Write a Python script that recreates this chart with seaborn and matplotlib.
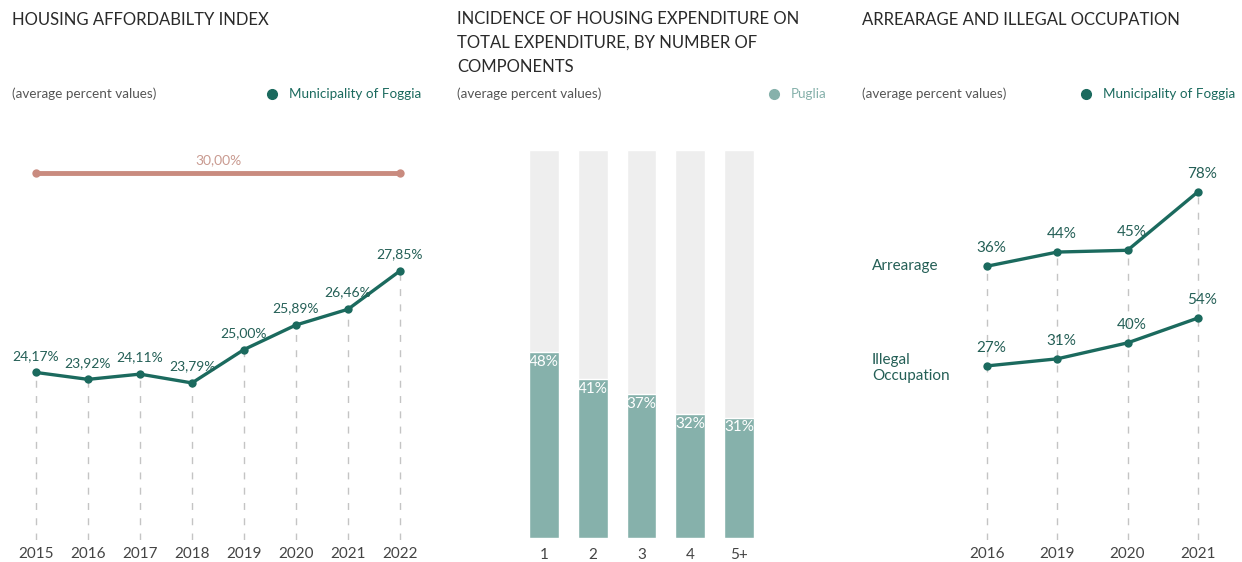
import matplotlib
matplotlib.use("Agg")
import matplotlib.pyplot as plt
import seaborn as sns
import pandas as pd
import numpy as np
from matplotlib.lines import Line2D

# ---------------- data ----------------
years_afford = [2015, 2016, 2017, 2018, 2019, 2020, 2021, 2022]
afford_values = [24.17, 23.92, 24.11, 23.79, 25.00, 25.89, 26.46, 27.85]
afford_threshold = 30.00

components = ["1", "2", "3", "4", "5+"]
incidence_puglia = [48, 41, 37, 32, 31]
incidence_total = [100, 100, 100, 100, 100]

years_arrear = ["2016", "2019", "2020", "2021"]
arrearage = [36, 44, 45, 78]
illegal_occupation = [27, 31, 40, 54]

# ---------------- style ----------------
sns.set_theme(style="white")
plt.rcParams["font.family"] = ["Lato", "DejaVu Sans"]

DARK = "#1b6a5e"
DARK_TXT = "#245f56"
ROSE = "#c98b7f"
ROSE_TXT = "#c99a90"
BAR = "#86b1ab"
BAR_BG = "#eeeeee"
GRID = "#c4c4c4"
TXT = "#2a2a2a"
SUB = "#555555"

W, H = 1242, 562
fig = plt.figure(figsize=(W / 100, H / 100), dpi=100)
fig.patch.set_facecolor("white")


def rect(l, t, r, b):
    return [l / W, 1 - b / H, (r - l) / W, (b - t) / H]


def fx(x):
    return x / W


def fy(y):
    return 1 - y / H


def clean(ax):
    for s in ax.spines.values():
        s.set_visible(False)
    ax.set_yticks([])
    ax.set_ylabel("")
    ax.set_xlabel("")
    ax.tick_params(axis="x", length=0, pad=5, labelsize=11, labelcolor="#444444")
    ax.set_facecolor("none")


# ---------------- headers ----------------
fig.text(fx(12), fy(20), "HOUSING AFFORDABILTY INDEX", fontsize=12, color=TXT, va="center")
fig.text(fx(457), fy(11), "INCIDENCE OF HOUSING EXPENDITURE ON\nTOTAL EXPENDITURE, BY NUMBER OF\nCOMPONENTS",
         fontsize=12, color=TXT, va="top", ha="left", linespacing=1.6)
fig.text(fx(862), fy(20), "ARREARAGE AND ILLEGAL OCCUPATION", fontsize=12, color=TXT, va="center")

for x in (12, 457, 862):
    fig.text(fx(x), fy(94), "(average percent values)", fontsize=9.7, color=SUB, va="center")

legend_items = [(272, "Municipality of Foggia", DARK), (774, "Puglia", BAR), (1086, "Municipality of Foggia", DARK)]
for x, lab, col in legend_items:
    fig.add_artist(Line2D([fx(x)], [fy(94)], marker="o", markersize=7, color=col,
                          linestyle="none", transform=fig.transFigure))
    fig.text(fx(x + 17), fy(94), lab, fontsize=9.7, color=col, va="center")

# ---------------- panel 1: affordability ----------------
ax1 = fig.add_axes(rect(20, 150, 416, 540))
df1 = pd.DataFrame({"year": years_afford, "value": afford_values})
ylo1, yhi1 = 18.1, 32.23
ax1.vlines(df1["year"], ylo1, df1["value"], colors=GRID, linestyles=(0, (5, 6)), linewidth=1, zorder=1)
sns.lineplot(data=df1, x="year", y="value", ax=ax1, color=DARK, linewidth=2.4,
             marker="o", markersize=6, markeredgewidth=0, zorder=3)
for x, v in zip(years_afford, afford_values):
    ax1.annotate(f"{v:.2f}".replace(".", ",") + "%", (x, v), xytext=(0, 12), textcoords="offset points",
                 ha="center", va="center", fontsize=10, color=DARK_TXT, zorder=4)
ax1.set_xlim(2014.692, 2022.308)
ax1.set_ylim(ylo1, yhi1)
ax1.set_xticks(years_afford)
ax1.set_xticklabels([str(y) for y in years_afford])
clean(ax1)

# threshold line on a twin scale
ax1b = ax1.twinx()
df1b = pd.DataFrame({"year": [years_afford[0], years_afford[-1]], "value": [afford_threshold] * 2})
sns.lineplot(data=df1b, x="year", y="value", ax=ax1b, color=ROSE, linewidth=3.5,
             marker="o", markersize=6, markeredgewidth=0)
ax1b.annotate(f"{afford_threshold:.2f}".replace(".", ",") + "%",
              ((years_afford[0] + years_afford[-1]) / 2, afford_threshold),
              xytext=(0, 9), textcoords="offset points", ha="center", va="center",
              fontsize=10, color=ROSE_TXT)
ax1b.set_ylim(0, 30 / 0.941)
ax1b.set_xlim(ax1.get_xlim())
ax1b.set_axis_off()

# ---------------- panel 2: bars ----------------
ax2 = fig.add_axes(rect(510, 150, 773, 538))
df2 = pd.DataFrame({"comp": components, "value": incidence_puglia, "total": incidence_total})
sns.barplot(data=df2, x="comp", y="total", ax=ax2, color=BAR_BG, width=0.615, saturation=1, zorder=1)
sns.barplot(data=df2, x="comp", y="value", ax=ax2, color=BAR, width=0.615, saturation=1, zorder=2)
for i, v in enumerate(incidence_puglia):
    ax2.annotate(f"{v}%", (i, v), xytext=(0, -2), textcoords="offset points",
                 ha="center", va="top", fontsize=11, color="white", zorder=4)
ax2.set_xlim(-0.697, 4.697)
ax2.set_ylim(0, 100)
clean(ax2)
ax2.tick_params(axis="x", pad=7)

# ---------------- panel 3: arrearage / illegal ----------------
ax3 = fig.add_axes(rect(862, 150, 1235, 540))
idx = np.arange(len(years_arrear))
df3a = pd.DataFrame({"i": idx, "value": arrearage})
df3b = pd.DataFrame({"i": idx, "value": illegal_occupation})
ylo3a, yhi3a = -118.8, 101.7
ax3.vlines(idx, ylo3a, arrearage, colors=GRID, linestyles=(0, (5, 6)), linewidth=1, zorder=1)
sns.lineplot(data=df3a, x="i", y="value", ax=ax3, color=DARK, linewidth=2.4,
             marker="o", markersize=6, markeredgewidth=0, zorder=3)
for i, v in zip(idx, arrearage):
    ax3.annotate(f"{v}%", (i, v), xytext=(3, 13), textcoords="offset points",
                 ha="center", va="center", fontsize=11, color=DARK_TXT)
ax3.annotate("Arrearage", (0, arrearage[0]), xytext=(-83, 0), textcoords="offset points",
             ha="left", va="center", fontsize=11, color=DARK_TXT)
ax3.set_xlim(-1.78, 3.53)
ax3.set_ylim(ylo3a, yhi3a)
ax3.set_xticks(idx)
ax3.set_xticklabels(years_arrear)
clean(ax3)

ax3b = ax3.twinx()
sns.lineplot(data=df3b, x="i", y="value", ax=ax3b, color=DARK, linewidth=2.4,
             marker="o", markersize=6, markeredgewidth=0, zorder=3)
for i, v in zip(idx, illegal_occupation):
    ax3b.annotate(f"{v}%", (i, v), xytext=(3, 13), textcoords="offset points",
                  ha="center", va="center", fontsize=11, color=DARK_TXT)
ax3b.annotate("Illegal\nOccupation", (0, illegal_occupation[0]), xytext=(-83, -1.5),
              textcoords="offset points", ha="left", va="center", fontsize=11,
              color=DARK_TXT, linespacing=1.15)
ax3b.set_xlim(ax3.get_xlim())
ax3b.set_ylim(-71.3, 148.9)
ax3b.set_axis_off()

fig.savefig("out.png", dpi=100, facecolor="white")
